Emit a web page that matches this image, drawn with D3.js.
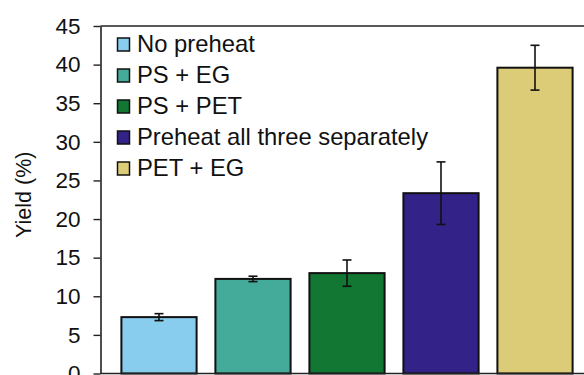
<!DOCTYPE html>
<html>
<head>
<meta charset="utf-8">
<script src="https://cdn.jsdelivr.net/npm/d3@7"></script>
<style>
  body { margin: 0; background: #fff; }
  svg { display: block; font-family: "Liberation Sans", Arial, sans-serif; }
</style>
</head>
<body>
<script>
// Data
var categories = ["No preheat", "PS + EG", "PS + PET", "Preheat all three separately", "PET + EG"];
var yields = [7.3, 12.25, 13.0, 23.35, 39.6];
var errors = [0.45, 0.35, 1.7, 4.05, 2.9];
var colors = ["#88ccee", "#44aa99", "#117733", "#332288", "#ddcc77"];
var yTicks = [0, 5, 10, 15, 20, 25, 30, 35, 40, 45];

var width = 584,
    height = 375;

var plotLeft = 100.5, plotTop = 26, plotBottom = 373.5;

var svg = d3.select("body")
    .append("svg")
    .attr("width", width)
    .attr("height", height);

var x = d3.scaleBand()
    .domain(categories)
    .range([112, 582])
    .paddingInner(0.2)
    .paddingOuter(0.1);

var y = d3.scaleLinear()
    .domain([0, 45])
    .range([plotBottom, plotTop]);

// bars
svg.selectAll("rect.bar")
    .data(categories)
    .enter()
    .append("rect")
    .attr("class", "bar")
    .attr("x", d => x(d))
    .attr("y", (d, i) => y(yields[i]))
    .attr("width", x.bandwidth())
    .attr("height", (d, i) => y(0) - y(yields[i]))
    .attr("fill", (d, i) => colors[i])
    .attr("stroke", "#111")
    .attr("stroke-width", 2);

// error bars
var eb = svg.selectAll("g.err")
    .data(categories)
    .enter()
    .append("g")
    .attr("class", "err")
    .attr("stroke", "#111")
    .attr("stroke-width", 1.6);

eb.append("line")
    .attr("x1", d => x(d) + x.bandwidth() / 2)
    .attr("x2", d => x(d) + x.bandwidth() / 2)
    .attr("y1", (d, i) => y(yields[i] + errors[i]))
    .attr("y2", (d, i) => y(yields[i] - errors[i]));

[1, -1].forEach(function(s) {
  eb.append("line")
      .attr("x1", d => x(d) + x.bandwidth() / 2 - 4.5)
      .attr("x2", d => x(d) + x.bandwidth() / 2 + 4.5)
      .attr("y1", (d, i) => y(yields[i] + s * errors[i]))
      .attr("y2", (d, i) => y(yields[i] + s * errors[i]));
});

// frame top + bottom
svg.append("line")
    .attr("x1", plotLeft).attr("x2", width + 5)
    .attr("y1", plotTop).attr("y2", plotTop)
    .attr("stroke", "#222").attr("stroke-width", 1.6);
svg.append("line")
    .attr("x1", plotLeft).attr("x2", width + 5)
    .attr("y1", plotBottom).attr("y2", plotBottom)
    .attr("stroke", "#222").attr("stroke-width", 1.6);

// y axis
var yAxis = svg.append("g")
    .attr("transform", "translate(" + plotLeft + ",0)")
    .call(d3.axisLeft(y).tickValues(yTicks).tickSize(7).tickPadding(13).tickSizeOuter(0));

yAxis.select(".domain").attr("stroke", "#222").attr("stroke-width", 1.6);
yAxis.selectAll(".tick line").attr("stroke", "#222").attr("stroke-width", 1.4);
yAxis.selectAll(".tick text")
    .attr("font-size", "22.5px")
    .attr("font-family", "Liberation Sans, Arial, sans-serif")
    .attr("fill", "#111");

svg.append("text")
    .attr("transform", "translate(31," + ((plotTop + plotBottom) / 2 - 5) + ") rotate(-90)")
    .attr("text-anchor", "middle")
    .attr("font-size", "21.5px")
    .attr("fill", "#111")
    .text("Yield (%)");

// legend
var legend = svg.selectAll("g.legend")
    .data(categories)
    .enter()
    .append("g")
    .attr("class", "legend")
    .attr("transform", (d, i) => "translate(117," + (44 + i * 31) + ")");

legend.append("rect")
    .attr("x", 0.5)
    .attr("y", -6)
    .attr("width", 12)
    .attr("height", 13)
    .attr("fill", (d, i) => colors[i])
    .attr("stroke", "#111")
    .attr("stroke-width", 1.5);

legend.append("text")
    .attr("x", 20)
    .attr("y", 8)
    .attr("font-size", "23.8px")
    .attr("fill", "#111")
    .text(d => d);
</script>
</body>
</html>
